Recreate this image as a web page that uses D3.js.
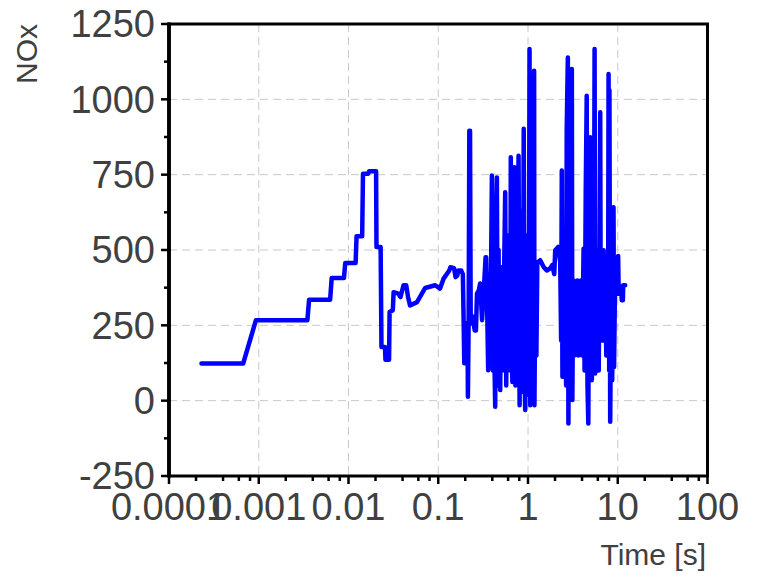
<!DOCTYPE html>
<html>
<head>
<meta charset="utf-8">
<script src="https://cdn.jsdelivr.net/npm/d3@7/dist/d3.min.js"></script>
<style>
  html, body { margin: 0; padding: 0; background: #fff; }
  svg text { font-family: "Liberation Sans", Arial, sans-serif; fill: #404040; }
</style>
</head>
<body>
<svg id="chart" width="758" height="573"></svg>
<script>
// ---- data ----
const xTickValues = [0.0001, 0.001, 0.01, 0.1, 1, 10, 100];
const xTickLabels = ["0.0001", "0.001", "0.01", "0.1", "1", "10", "100"];
const yTickValues = [-250, 0, 250, 500, 750, 1000, 1250];
const yTickLabels = ["-250", "0", "250", "500", "750", "1000", "1250"];
const xLabel = "Time [s]";
const yLabel = "NOx";

const time = [
  0.00023, 0.00067, 0.00093, 0.00348, 0.00364, 0.00624, 0.0065, 0.0089, 0.0092, 0.0120,
  0.0123, 0.0142, 0.0145, 0.0165, 0.0170, 0.0203, 0.0205, 0.0228, 0.0233, 0.0255,
  0.0258, 0.0283, 0.0287, 0.0312, 0.0318, 0.036, 0.038, 0.041, 0.044, 0.046,
  0.0485, 0.058, 0.0715, 0.0925, 0.1047, 0.1147, 0.1326, 0.137, 0.150, 0.156,
  0.163, 0.167, 0.18, 0.188, 0.192, 0.195, 0.20, 0.205, 0.212, 0.214,
  0.218, 0.222, 0.226, 0.23, 0.24, 0.255, 0.263, 0.27, 0.283, 0.293,
  0.308, 0.325, 0.337,
  0.342, 0.351, 0.360, 0.369, 0.379, 0.389, 0.396, 0.405, 0.415, 0.422,
  0.431, 0.44, 0.45, 0.46, 0.47, 0.48, 0.49, 0.503, 0.516, 0.53,
  0.543, 0.557, 0.572, 0.587, 0.602, 0.618, 0.634, 0.643, 0.656, 0.67,
  0.688, 0.706, 0.725, 0.74, 0.752, 0.768, 0.785, 0.806, 0.82, 0.84,
  0.86, 0.878, 0.896, 0.915, 0.931, 0.955, 0.98, 1.0, 1.02, 1.04,
  1.059, 1.086, 1.11, 1.14, 1.17, 1.18, 1.21, 1.24, 1.27, 1.30,
  1.368, 1.50, 1.62, 1.77, 1.86, 1.96, 2.01, 2.17,
  2.285, 2.34, 2.38, 2.42, 2.48, 2.55, 2.60, 2.66, 2.70, 2.78,
  2.82, 2.87, 2.93, 3.0, 3.08, 3.12, 3.19, 3.27, 3.36, 3.45,
  3.54, 3.63, 3.72, 3.82, 3.92, 4.02, 4.16, 4.27, 4.4, 4.51,
  4.6, 4.7, 4.78, 4.93, 5.05, 5.15, 5.25, 5.4, 5.52, 5.61,
  5.76, 5.86, 5.99, 6.14, 6.27, 6.38, 6.46, 6.63, 6.8, 6.96,
  7.1, 7.26, 7.45, 7.64, 7.8, 7.9, 8.03, 8.08, 8.24, 8.45,
  8.67, 8.97, 9.1, 9.37, 9.75, 9.9, 10.1, 10.25, 10.5, 10.9,
  11.1, 11.4, 11.5, 12.1
];
const nox = [
  123, 123, 267, 267, 335, 335, 407, 407, 457, 457,
  546, 546, 753, 753, 761, 761, 510, 510, 178, 178,
  136, 136, 294, 300, 360, 355, 344, 383, 383, 345,
  316, 327, 374, 383, 372, 405, 432, 443, 440, 410,
  415, 432, 432, 420, 257, 124, 124, 257, 257, 13,
  257, 896, 896, 257, 280, 233, 233, 355, 366, 389,
  267, 389, 476,
  476, 300, 101, 420, 150, 480, 747, 100, 650, 150,
  -20, 600, 741, 50, 500, 100, 35, 443, 150, 101,
  450, 692, 50, 500, 120, 550, 100, 808, 200, 62,
  450, 775, 50, 480, 91, 500, 813, -15, 450, 30,
  631, 50, 902, 100, -31, 480, 20, 550, 100, 1167,
  -15, 470, 30, 500, 1095, -15, 450, 150, 460, 460,
  466, 443, 432, 439, 450, 420, 499, 510,
  460, 200, 764, 79, 450, 100, 550, 50, 900, 1139,
  -76, 450, 50, 480, 1101, 2, 400, 150, 350, 180,
  399, 150, 380, 180, 400, 150, 504, 100, 700, 1012,
  50, -76, 500, 874, 100, 68, 500, 150, 1167, 90,
  480, 150, 499, 100, 500, 957, 211, 480, 200, 499,
  250, 470, 150, 480, 200, 1084, 100, 1030, -70, 400,
  68, 642, 112, 450, 466, 355, 480, 355, 377, 377,
  333, 333, 383, 383
];

// ---- layout ----
const svg = d3.select("#chart");
const mLeft = 169, mRight = 707.5, mTop = 24, mBottom = 476;

const x = d3.scaleLog().domain([1e-4, 100]).range([mLeft, mRight]);
const y = d3.scaleLinear().domain([-250, 1250]).range([mBottom, mTop]);

// grid
const grid = svg.append("g").attr("stroke", "#c8c8c8").attr("stroke-width", 1)
  .attr("stroke-dasharray", "8,5").attr("fill", "none");
xTickValues.slice(1, -1).forEach(v => {
  grid.append("line").attr("x1", x(v)).attr("x2", x(v)).attr("y1", mTop).attr("y2", mBottom);
});
yTickValues.slice(1, -1).forEach(v => {
  grid.append("line").attr("x1", mLeft).attr("x2", mRight).attr("y1", y(v)).attr("y2", y(v));
});

// data line
const pts = time.map((t, i) => [t, nox[i]]);
svg.append("path")
  .datum(pts)
  .attr("fill", "none")
  .attr("stroke", "#0000ff")
  .attr("stroke-width", 4.5)
  .attr("stroke-linejoin", "round")
  .attr("stroke-linecap", "round")
  .attr("d", d3.line().x(d => x(d[0])).y(d => y(d[1])));

// minor ticks
const minorX = [];
for (let e = -4; e < 2; e++) [2, 4, 6, 8].forEach(k => minorX.push(k * Math.pow(10, e)));
const minorY = [];
for (let v = -125; v < 1250; v += 250) minorY.push(v);

const axisG = svg.append("g").attr("stroke", "#000");
minorX.forEach(v => axisG.append("line").attr("x1", x(v)).attr("x2", x(v))
  .attr("y1", mBottom).attr("y2", mBottom + 5).attr("stroke-width", 2.5));
xTickValues.forEach(v => axisG.append("line").attr("x1", x(v)).attr("x2", x(v))
  .attr("y1", mBottom).attr("y2", mBottom + 8).attr("stroke-width", 2.5));
minorY.forEach(v => axisG.append("line").attr("x1", mLeft - 5).attr("x2", mLeft)
  .attr("y1", y(v)).attr("y2", y(v)).attr("stroke-width", 2.5));
yTickValues.forEach(v => axisG.append("line").attr("x1", mLeft - 8).attr("x2", mLeft)
  .attr("y1", y(v)).attr("y2", y(v)).attr("stroke-width", 2.5));

// frame
svg.append("rect").attr("x", mLeft).attr("y", mTop)
  .attr("width", mRight - mLeft).attr("height", mBottom - mTop)
  .attr("fill", "none").attr("stroke", "#000").attr("stroke-width", 3);
svg.append("line").attr("x1", mLeft).attr("x2", mLeft).attr("y1", mTop - 1.5).attr("y2", mBottom + 1.5)
  .attr("stroke", "#000").attr("stroke-width", 3.8);

// tick labels
svg.append("g").selectAll("text").data(xTickValues).join("text")
  .attr("x", d => x(d)).attr("y", mBottom + 44)
  .attr("text-anchor", "middle").attr("font-size", 38)
  .text((d, i) => xTickLabels[i]);
svg.append("g").selectAll("text").data(yTickValues).join("text")
  .attr("x", 155).attr("y", d => y(d) + 13.4)
  .attr("text-anchor", "end").attr("font-size", 38)
  .text((d, i) => yTickLabels[i]);

// axis titles
svg.append("text").attr("x", 706).attr("y", 565).attr("text-anchor", "end")
  .attr("font-size", 30).text(xLabel);
svg.append("text").attr("transform", "translate(37,24) rotate(-90)")
  .attr("text-anchor", "end").attr("font-size", 30).text(yLabel);
</script>
</body>
</html>
